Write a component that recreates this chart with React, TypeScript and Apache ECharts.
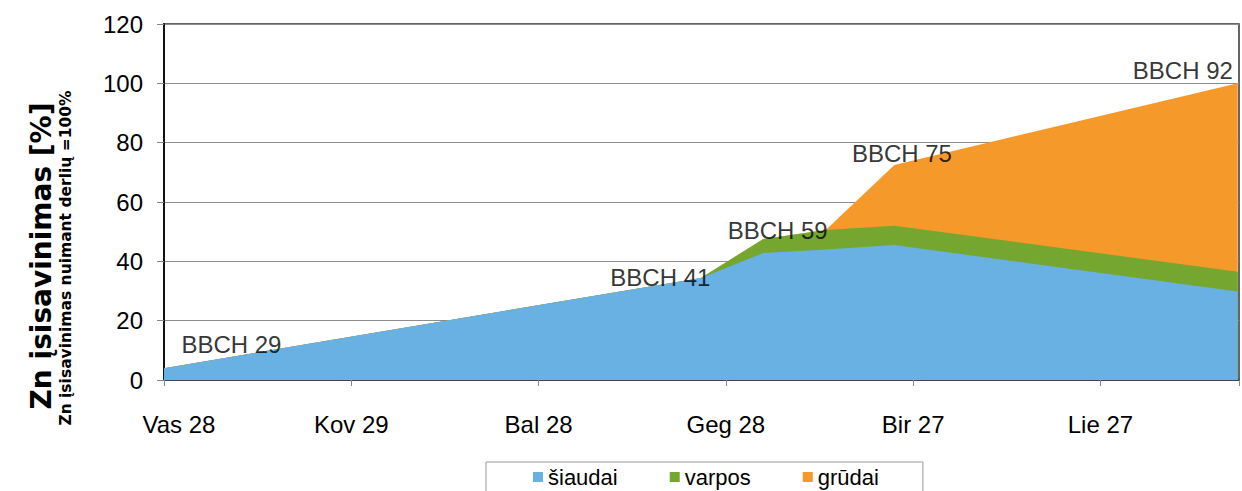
import React, { useEffect, useRef } from "react";
import * as echarts from "echarts";

// x positions in days after Feb 28 (ticks every 30 days)
const tickLabels = ["Vas 28", "Kov 29", "Bal 28", "Geg 28", "Bir 27", "Lie 27"];
const days = [0, 86, 96, 106, 117, 172];
const siaudai = [4.0, 34.4, 42.8, 44.0, 45.5, 29.8];
const varpos = [0, 0, 4.7, 6.6, 6.5, 6.7];
const grudai = [0, 0, 0, 0, 20.5, 63.5];
const seriesNames = ["šiaudai", "varpos", "grūdai"];
const colors = ["#69B0E3", "#74A630", "#F5992B"];

// growth stage annotations (day, value)
const bbchNames = ["BBCH 29", "BBCH 41", "BBCH 59", "BBCH 75", "BBCH 92"];
const bbchDays = [10.8, 79.5, 98.3, 118.2, 163.2];
const bbchValues = [12.0, 34.4, 50.4, 76.2, 104.3];

const FONT = "'Liberation Sans', Arial, sans-serif";
const TITLE_FONT = "'DejaVu Sans', 'Liberation Sans', sans-serif";

export default function App() {
  const ref = useRef<HTMLDivElement>(null);
  useEffect(() => {
    if (!ref.current) return;
    const chart = echarts.init(ref.current, undefined, { renderer: "svg" });
    const values = [siaudai, varpos, grudai];
    // cumulative tops (stacked area), drawn back to front
    const cumulative = values.map((_, si) =>
      days.map((_, i) => {
        let s = 0;
        for (let k = 0; k <= si; k++) s += values[k][i];
        return Math.round(s * 100) / 100;
      })
    );
    const areaSeries = values.map((_, si) => ({
      name: seriesNames[si],
      type: "line",
      symbol: "none",
      lineStyle: { width: 0 },
      itemStyle: { color: colors[si] },
      areaStyle: { color: colors[si], opacity: 1 },
      data: days.map((d, i) => [d, cumulative[si][i]]),
      z: 4 - si,
    }));
    chart.setOption({
      animation: false,
      textStyle: { fontFamily: FONT },
      grid: { left: 164, right: -2, top: 24, bottom: 111, show: true, borderColor: "#333", borderWidth: 1.5 },
      xAxis: {
        type: "value",
        min: 0,
        max: 172.2,
        interval: 30,
        axisLine: { show: true, lineStyle: { color: "#3d4650", width: 2 } },
        axisTick: { show: true, length: 6, lineStyle: { color: "#888" } },
        splitLine: { show: false },
        axisLabel: {
          margin: 32,
          fontSize: 24,
          color: "#000",
          fontFamily: FONT,
          formatter: (v: number) => {
            const i = Math.round(v / 30);
            if (Math.abs(v - i * 30) > 0.01 || i >= tickLabels.length) return "";
            return i === 0 ? "{first|" + tickLabels[0] + "}" : tickLabels[i];
          },
          rich: {
            first: { padding: [0, 0, 0, 30], fontSize: 24, color: "#000", fontFamily: FONT },
          },
        },
      },
      yAxis: {
        type: "value",
        min: 0,
        max: 120,
        interval: 20,
        axisLine: { show: true, lineStyle: { color: "#111", width: 2 } },
        axisTick: { show: true, length: 7, lineStyle: { color: "#888" } },
        splitLine: { show: true, lineStyle: { color: "#8c8c8c", width: 1 } },
        axisLabel: { margin: 21, fontSize: 24, color: "#000", fontFamily: FONT },
      },
      legend: {
        data: seriesNames,
        left: 486,
        top: 462,
        orient: "horizontal",
        icon: "rect",
        itemWidth: 10,
        itemHeight: 10,
        itemGap: 52,
        padding: [4, 44, 24, 47],
        borderColor: "#999",
        borderWidth: 1,
        backgroundColor: "#fff",
        textStyle: { fontSize: 22, color: "#000", fontFamily: FONT },
      },
      graphic: [
        {
          type: "text",
          x: 41,
          y: 256,
          rotation: Math.PI / 2,
          style: {
            text: "Zn įsisavinimas [%]",
            fontSize: 28,
            fontWeight: "bold",
            fontFamily: TITLE_FONT,
            fill: "#000",
            textAlign: "center",
            textVerticalAlign: "middle",
          },
        },
        {
          type: "text",
          x: 66,
          y: 258,
          rotation: Math.PI / 2,
          style: {
            text: "Zn įsisavinimas nuimant derlių =100%",
            fontSize: 15.5,
            fontWeight: "bold",
            fontFamily: TITLE_FONT,
            fill: "#000",
            textAlign: "center",
            textVerticalAlign: "middle",
          },
        },
      ],
      series: [
        ...areaSeries,
        {
          type: "scatter",
          symbolSize: 0,
          silent: true,
          z: 6,
          data: bbchDays.map((d, i) => ({ value: [d, bbchValues[i]], name: bbchNames[i] })),
          label: {
            show: true,
            position: "inside",
            formatter: "{b}",
            fontSize: 24,
            color: "#000",
            fontFamily: FONT,
          },
        },
      ],
    });
    return () => chart.dispose();
  }, []);
  return (
    <div
      ref={ref}
      style={{ position: "fixed", left: 0, top: 0, width: 1242, height: 491, background: "#fff" }}
    />
  );
}
